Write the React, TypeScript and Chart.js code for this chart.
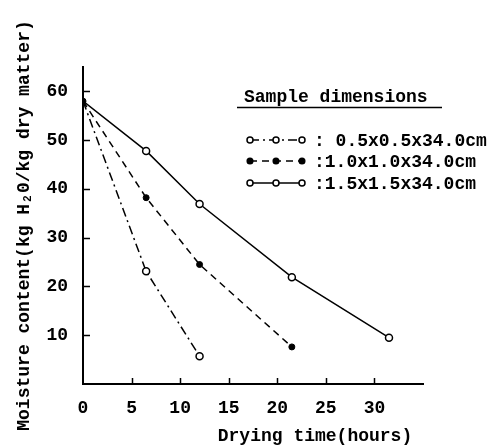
import React, { useEffect, useRef } from "react";
import { Chart, registerables } from "chart.js";

Chart.register(...registerables);

// ---- data ----
const hours05 = [0, 6.5, 12];
const moisture05 = [58, 23.1, 5.7];

const hours10 = [0, 6.5, 12, 21.5];
const moisture10 = [58, 38.2, 24.5, 7.6];

const hours15 = [0, 6.5, 12, 21.5, 31.5];
const moisture15 = [58, 47.8, 36.9, 21.9, 9.5];

const seriesLabels = [": 0.5x0.5x34.0cm", ":1.0x1.0x34.0cm", ":1.5x1.5x34.0cm"];
const legendTitle = "Sample dimensions";
const xTitle = "Drying time(hours)";
const yTitle = "Moisture content(kg H\u20820/kg dry matter)";
const xTickValues = [0, 5, 10, 15, 20, 25, 30];
const yTickValues = [10, 20, 30, 40, 50, 60];

const FONT = "'Liberation Mono', 'DejaVu Sans Mono', monospace";

const toPts = (xs: number[], ys: number[]) => xs.map((x, i) => ({ x, y: ys[i] }));

const inwardTicks = {
  id: "inwardTicks",
  afterDatasetsDraw(chart: any) {
    const { ctx, scales } = chart;
    const xs = scales.x;
    const ys = scales.y;
    ctx.save();
    ctx.strokeStyle = "#000";
    ctx.lineWidth = 1.5;
    ctx.beginPath();
    xTickValues.forEach((v) => {
      if (v <= 0) return;
      const px = Math.round(xs.getPixelForValue(v)) + 0.5;
      ctx.moveTo(px, ys.bottom + 1);
      ctx.lineTo(px, ys.bottom - 6);
    });
    yTickValues.forEach((v) => {
      const py = Math.round(ys.getPixelForValue(v)) + 0.5;
      ctx.moveTo(xs.left, py);
      ctx.lineTo(xs.left + 7, py);
    });
    ctx.stroke();
    ctx.restore();
  },
};

const customLegend = {
  id: "customLegend",
  afterDraw(chart: any) {
    const { ctx } = chart;
    ctx.save();
    ctx.fillStyle = "#000";
    ctx.strokeStyle = "#000";
    ctx.font = `bold 18px ${FONT}`;
    ctx.textBaseline = "middle";
    ctx.textAlign = "left";
    // title
    ctx.fillText(legendTitle, 244, 97);
    ctx.lineWidth = 1.5;
    ctx.beginPath();
    ctx.moveTo(237, 107.5);
    ctx.lineTo(442, 107.5);
    ctx.stroke();
    const rowY = [140, 161, 183];
    chart.data.datasets.forEach((ds: any, i: number) => {
      const y = rowY[i];
      ctx.save();
      ctx.lineWidth = ds.borderWidth;
      ctx.setLineDash(ds.borderDash || []);
      ctx.beginPath();
      ctx.moveTo(250, y);
      ctx.lineTo(302, y);
      ctx.stroke();
      ctx.setLineDash([]);
      [250, 276, 302].forEach((mx) => {
        ctx.beginPath();
        ctx.arc(mx, y, ds.legendRadius, 0, Math.PI * 2);
        ctx.fillStyle = ds.legendFill;
        ctx.fill();
        ctx.lineWidth = 1.5;
        ctx.stroke();
      });
      ctx.restore();
      ctx.fillStyle = "#000";
      ctx.fillText(seriesLabels[i], 314, y + 1);
    });
    ctx.restore();
  },
};

export default function App() {
  const ref = useRef<HTMLCanvasElement | null>(null);
  useEffect(() => {
    if (!ref.current) return;
    const chart = new Chart(ref.current, {
      type: "line",
      data: {
        datasets: [
          {
            label: seriesLabels[0],
            data: toPts(hours05, moisture05),
            borderColor: "#000",
            borderWidth: 1.5,
            borderDash: [9, 4, 2, 4],
            pointRadius: [0, 3.5, 3.5],
            pointBackgroundColor: "#fff",
            pointBorderColor: "#000",
            pointBorderWidth: 1.5,
            tension: 0,
            legendRadius: 3,
            legendFill: "#fff",
          } as any,
          {
            label: seriesLabels[1],
            data: toPts(hours10, moisture10),
            borderColor: "#000",
            borderWidth: 1.5,
            borderDash: [7, 5],
            pointRadius: 3,
            pointBackgroundColor: "#000",
            pointBorderColor: "#000",
            pointBorderWidth: 1,
            tension: 0,
            legendRadius: 2.8,
            legendFill: "#000",
          } as any,
          {
            label: seriesLabels[2],
            data: toPts(hours15, moisture15),
            borderColor: "#000",
            borderWidth: 1.5,
            pointRadius: [0, 3.5, 3.5, 3.5, 3.5],
            pointBackgroundColor: "#fff",
            pointBorderColor: "#000",
            pointBorderWidth: 1.5,
            tension: 0,
            legendRadius: 3,
            legendFill: "#fff",
          } as any,
        ],
      },
      options: {
        animation: false,
        responsive: false,
        devicePixelRatio: 1,
        layout: { padding: { top: 67, right: 74, left: 0, bottom: 0 } },
        plugins: { legend: { display: false }, tooltip: { enabled: false } },
        scales: {
          x: {
            type: "linear",
            min: 0,
            max: 35,
            afterBuildTicks: (s: any) => {
              s.ticks = xTickValues.map((v) => ({ value: v }));
            },
            afterFit: (s: any) => {
              s.height = 63;
            },
            grid: { display: false },
            border: { display: true, color: "#000", width: 2 },
            ticks: {
              color: "#000",
              padding: 6,
              maxRotation: 0,
              font: { family: FONT, size: 18, weight: "bold" },
            },
            title: {
              display: true,
              text: xTitle + " ",
              align: "end",
              color: "#000",
              padding: { top: 0, bottom: 0 },
              font: { family: FONT, size: 18, weight: "bold" },
            },
          },
          y: {
            type: "linear",
            min: 0,
            max: 65,
            afterBuildTicks: (s: any) => {
              s.ticks = yTickValues.map((v) => ({ value: v }));
            },
            afterFit: (s: any) => {
              s.width = 83;
            },
            grid: { display: false },
            border: { display: true, color: "#000", width: 2 },
            ticks: {
              color: "#000",
              padding: 7,
              font: { family: FONT, size: 18, weight: "bold" },
            },
            title: {
              display: true,
              text: yTitle,
              color: "#000",
              padding: { top: 14, bottom: 0 },
              font: { family: FONT, size: 18, weight: "bold" },
            },
          },
        },
      } as any,
      plugins: [inwardTicks, customLegend],
    });
    return () => chart.destroy();
  }, []);
  return (
    <div style={{ position: "absolute", left: 0, top: 0, width: 497, height: 447, background: "#fff" }}>
      <canvas ref={ref} width={497} height={447} />
    </div>
  );
}
